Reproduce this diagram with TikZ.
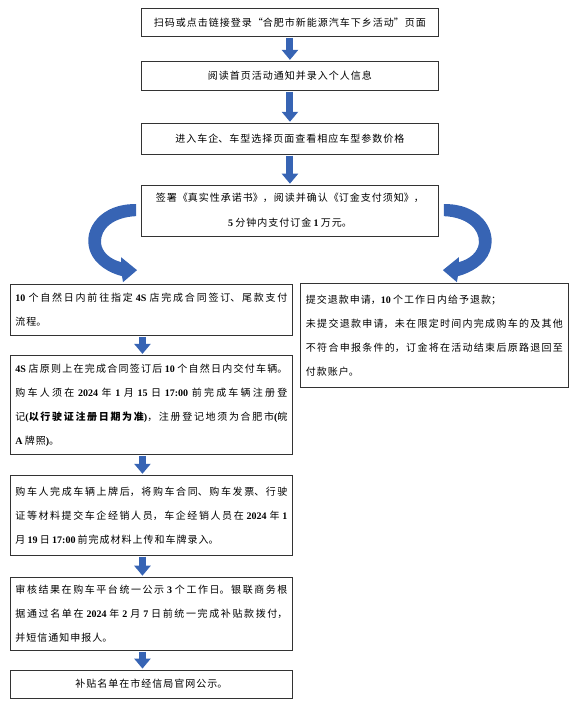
\documentclass[tikz,border=0pt]{standalone}
\usepackage{fontspec}
\setmainfont{Noto Sans CJK SC}
\newfontfamily\latfont{Liberation Serif}
\usetikzlibrary{positioning,arrows.meta}
\XeTeXlinebreaklocale "zh"
\XeTeXlinebreakskip=1pt plus 1pt
\setlength{\parindent}{0pt}
\definecolor{arrowblue}{RGB}{55,100,180}
\newcommand{\nm}[1]{{\latfont\bfseries #1}}
% bent arrow, drawn from the west side of the signing box
\newcommand{\curlpath}{(-5,-6.5) .. controls (-39,-7.5) and (-59,17.5) .. (-51,40.5)
  .. controls (-46,54.5) and (-31,62.5) .. (-19,65.5) -- (-18,71.5) -- (-4,59.5)
  -- (-20,46.5) -- (-20,51.5) .. controls (-31,48.5) and (-39,41.5) .. (-40,32.5)
  .. controls (-41,17.5) and (-27,6.5) .. (-5,5.5) -- cycle}
\begin{document}
\begin{tikzpicture}[x=1pt, y=-1pt,
  stage/.style = {draw=black!80, line width=0.9pt, text width=287pt, inner xsep=5pt, inner ysep=0pt,
    align=flush center, font=\fontsize{10}{25}\selectfont},
  note/.style = {draw=black!80, line width=0.9pt, text width=272pt, inner xsep=5pt, inner ysep=0pt,
    align=justify, font=\fontsize{10}{24}\selectfont},
  flowarrow/.style = {draw=arrowblue, line width=7pt, -{Triangle[width=16pt,length=10pt]},
    shorten <=1pt, shorten >=1pt}]
\useasboundingbox (0,0) rectangle (576,703);
\node[stage, minimum height=28pt, anchor=north west] (scan) at (141,8) {扫码或点击链接登录“合肥市新能源汽车下乡活动”页面};
\node[stage, minimum height=29pt, below=24pt of scan] (read) {阅读首页活动通知并录入个人信息};
\node[stage, minimum height=31pt, below=32pt of read] (model) {进入车企、车型选择页面查看相应车型参数价格};
\node[stage, minimum height=51pt, below=30pt of model] (sign) {签署《真实性承诺书》，阅读并确认《订金支付须知》，\\ \nm{5} 分钟内支付订金 \nm{1} 万元。};
\node[note, minimum height=51pt, anchor=north west] (contract) at (10,284) {\nm{10} 个自然日内前往指定 \nm{4S} 店完成合同签订、尾款支付\linebreak 流程。};
\node[note, text width=257pt, inner xsep=5.5pt, minimum height=104pt, anchor=north west] (refund) at (300,283) {提交退款申请，\nm{10} 个工作日内给予退款；\\ 未提交退款申请，未在限定时间内完成购车的及其他\linebreak 不符合申报条件的，订金将在活动结束后原路退回至\linebreak 付款账户。};
\node[note, minimum height=99pt, below=19pt of contract] (deliver) {\nm{4S} 店原则上在完成合同签订后 \nm{10} 个自然日内交付车辆。\linebreak 购车人须在 \nm{2024} 年 \nm{1} 月 \nm{15} 日 \nm{17:00} 前完成车辆注册登\linebreak 记\nm{(}\textbf{以行驶证注册日期为准}\nm{)}，注册登记地须为合肥市\nm{(}皖\linebreak \nm{A} 牌照\nm{)}。};
\node[note, minimum height=80pt, below=20pt of deliver] (upload) {购车人完成车辆上牌后，将购车合同、购车发票、行驶\linebreak 证等材料提交车企经销人员，车企经销人员在 \nm{2024} 年 \nm{1}\linebreak 月 \nm{19} 日 \nm{17:00} 前完成材料上传和车牌录入。};
\node[note, minimum height=73pt, below=21pt of upload] (audit) {审核结果在购车平台统一公示 \nm{3} 个工作日。银联商务根\linebreak 据通过名单在 \nm{2024} 年 \nm{2} 月 \nm{7} 日前统一完成补贴款拨付，\linebreak 并短信通知申报人。};
\node[note, minimum height=28pt, align=flush center, below=19pt of audit] (publish) {补贴名单在市经信局官网公示。};
\draw[flowarrow] (scan.south) -- (read.north);
\draw[flowarrow] (read.south) -- (model.north);
\draw[flowarrow] (model.south) -- (sign.north);
\draw[flowarrow] ([xshift=-9pt]contract.south) -- ([xshift=-9pt]deliver.north);
\draw[flowarrow] ([xshift=-9pt]deliver.south) -- ([xshift=-9pt]upload.north);
\draw[flowarrow] ([xshift=-9pt]upload.south) -- ([xshift=-9pt]audit.north);
\draw[flowarrow] ([xshift=-9pt]audit.south) -- ([xshift=-9pt]publish.north);
\fill[arrowblue, shift={(sign.west)}] \curlpath;
\fill[arrowblue, shift={(sign.east)}, xscale=-1] \curlpath;
\end{tikzpicture}
\end{document}
